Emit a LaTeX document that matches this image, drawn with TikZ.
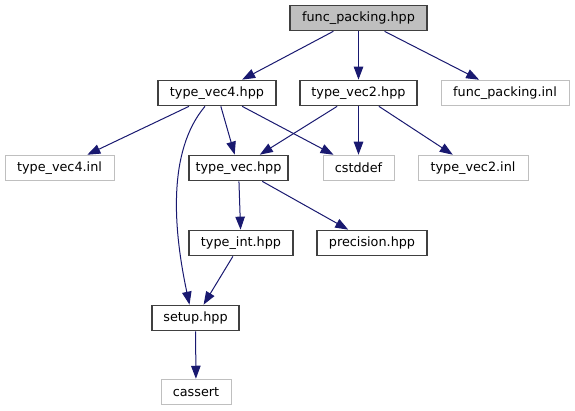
\documentclass[tikz,border=0pt]{standalone}
\usepackage{fontspec}
\setmainfont{DejaVu Sans}
\usetikzlibrary{arrows.meta}
\definecolor{edgeblue}{HTML}{191970}
\definecolor{boxgray}{HTML}{BFBFBF}
\definecolor{boxdark}{HTML}{404040}
\tikzset{
  filebox/.style={draw=boxdark, line width=1.2pt, rectangle, inner sep=0pt, minimum height=25.5pt, fill=white, font=\fontsize{12.8}{15}\selectfont},
  extbox/.style={draw=boxgray, line width=1pt, rectangle, inner sep=0pt, minimum height=25.5pt, fill=white, font=\fontsize{12.8}{15}\selectfont},
  rootbox/.style={filebox, fill=boxgray},
  dep/.style={draw=edgeblue, line width=1pt, -{Triangle[length=13pt,width=9.5pt]}}
}
\begin{document}
\begin{tikzpicture}[x=1pt,y=-1pt]
\useasboundingbox (0,0) rectangle (575,411);
\node[rootbox, minimum width=137pt] (fp) at (358.5,18) {func\_packing.hpp};
\node[filebox, minimum width=118pt] (tv4) at (217,93) {type\_vec4.hpp};
\node[filebox, minimum width=117pt] (tv2) at (358.5,93) {type\_vec2.hpp};
\node[extbox, minimum width=128pt] (fpinl) at (505,93) {func\_packing.inl};
\node[extbox, minimum width=109pt] (tv4inl) at (59.5,168) {type\_vec4.inl};
\node[filebox, minimum width=99pt] (tv) at (238.5,168) {type\_vec.hpp};
\node[extbox, minimum width=71pt] (cst) at (358.5,168) {cstddef};
\node[extbox, minimum width=110pt] (tv2inl) at (473,168) {type\_vec2.inl};
\node[filebox, minimum width=104pt] (tint) at (241,243) {type\_int.hpp};
\node[filebox, minimum width=110pt] (prec) at (372,243) {precision.hpp};
\node[filebox, minimum width=87pt] (setup) at (195.5,318) {setup.hpp};
\node[extbox, minimum width=70pt] (cas) at (196,392) {cassert};

\draw[dep] (fp) -- (tv4);
\draw[dep] (fp) -- (tv2);
\draw[dep] (fp) -- (fpinl);
\draw[dep] (tv4) -- (tv4inl);
\draw[dep] (tv4) -- (tv);
\draw[dep] (tv4) -- (cst);
\draw[dep] ([xshift=-12pt]tv4.south) .. controls +(-38,45) and +(-16,-75) .. ([xshift=-6pt]setup.north);
\draw[dep] (tv2) -- (tv);
\draw[dep] (tv2) -- (cst);
\draw[dep] (tv2) -- (tv2inl);
\draw[dep] (tv) -- (tint);
\draw[dep] (tv) -- (prec);
\draw[dep] (tint) -- (setup);
\draw[dep] (setup) -- (cas);
\end{tikzpicture}
\end{document}
